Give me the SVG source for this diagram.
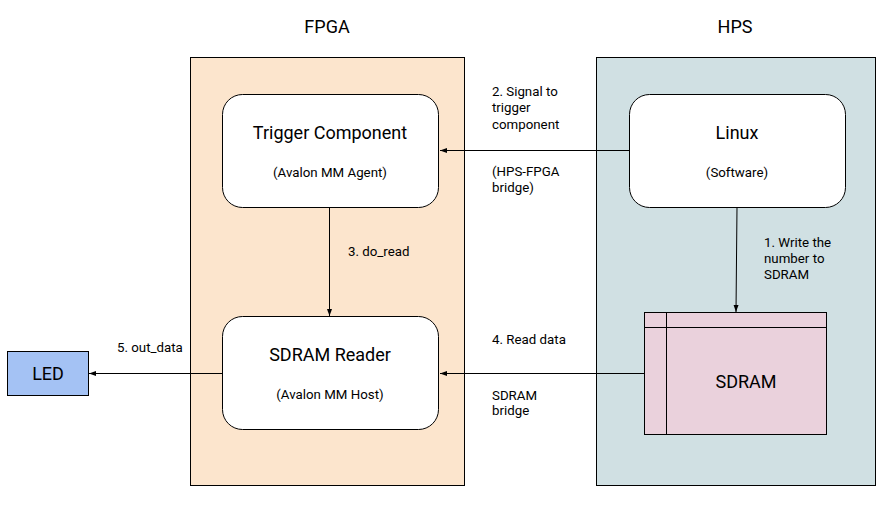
<svg xmlns="http://www.w3.org/2000/svg" width="895" height="506" viewBox="0 0 895 506">
<style>
text{font-family:Roboto,"Liberation Sans",sans-serif;fill:#000}
.t{font-size:18px;text-anchor:middle}
.s{font-size:13.3px;text-anchor:middle}
.l{font-size:13.3px}
.ln{stroke:#000;stroke-width:1;fill:none}
.box{fill:#fff;stroke:#000;stroke-width:1}
</style>
<defs>
<marker id="ah" markerWidth="8" markerHeight="8" refX="7" refY="4" orient="auto" markerUnits="userSpaceOnUse">
<path d="M0,1.5 L7,4 L0,6.5 Z" fill="#000"/>
</marker>
</defs>
<rect width="895" height="506" fill="#fff"/>
<g id="fpga">
<rect x="190.5" y="57.5" width="274" height="428" fill="#fce5cd" stroke="#000"/>
<text class="t" x="327" y="33">FPGA</text>
</g>
<g id="hps">
<rect x="596.5" y="57.5" width="279" height="428" fill="#d0e0e3" stroke="#000"/>
<text class="t" x="735" y="33">HPS</text>
</g>
<g id="connectors">
<line class="ln" x1="629" y1="150.5" x2="440" y2="150.5" marker-end="url(#ah)"/>
<line class="ln" x1="329.5" y1="207" x2="329.5" y2="316" marker-end="url(#ah)"/>
<line class="ln" x1="737" y1="207" x2="736" y2="312" marker-end="url(#ah)"/>
<line class="ln" x1="644" y1="373.5" x2="440" y2="373.5" marker-end="url(#ah)"/>
<line class="ln" x1="222" y1="373.5" x2="89" y2="373.5" marker-end="url(#ah)"/>
<text class="l" x="492" y="96">2. Signal to</text>
<text class="l" x="492" y="112">trigger</text>
<text class="l" x="492" y="129">component</text>
<text class="l" x="492" y="176">(HPS-FPGA</text>
<text class="l" x="492" y="192">bridge)</text>
<text class="l" x="348" y="256">3. do_read</text>
<text class="l" x="764" y="247">1. Write the</text>
<text class="l" x="764" y="263">number to</text>
<text class="l" x="764" y="279">SDRAM</text>
<text class="l" x="492" y="344">4. Read data</text>
<text class="l" x="492" y="400">SDRAM</text>
<text class="l" x="492" y="415">bridge</text>
<text class="l" x="117" y="352">5. out_data</text>
</g>
<g id="trigger">
<rect class="box" x="222.5" y="94.5" width="216" height="113" rx="20"/>
<text class="t" x="330" y="139">Trigger Component</text>
<text class="s" x="330" y="177">(Avalon MM Agent)</text>
</g>
<g id="linux">
<rect class="box" x="629.5" y="94.5" width="216" height="113" rx="20"/>
<text class="t" x="737" y="139">Linux</text>
<text class="s" x="737" y="177">(Software)</text>
</g>
<g id="reader">
<rect class="box" x="222.5" y="316.5" width="216" height="113" rx="20"/>
<text class="t" x="330" y="361">SDRAM Reader</text>
<text class="s" x="330" y="399">(Avalon MM Host)</text>
</g>
<g id="sdram">
<rect x="644.5" y="312.5" width="182" height="122" fill="#ead1dc" stroke="#000"/>
<line class="ln" x1="666.5" y1="312.5" x2="666.5" y2="434.5"/>
<line class="ln" x1="644.5" y1="327.5" x2="826.5" y2="327.5"/>
<text class="t" x="746" y="388">SDRAM</text>
</g>
<g id="led">
<rect x="7.5" y="351.5" width="81" height="44" fill="#a4c2f4" stroke="#000"/>
<text class="t" x="48" y="380">LED</text>
</g>
</svg>
